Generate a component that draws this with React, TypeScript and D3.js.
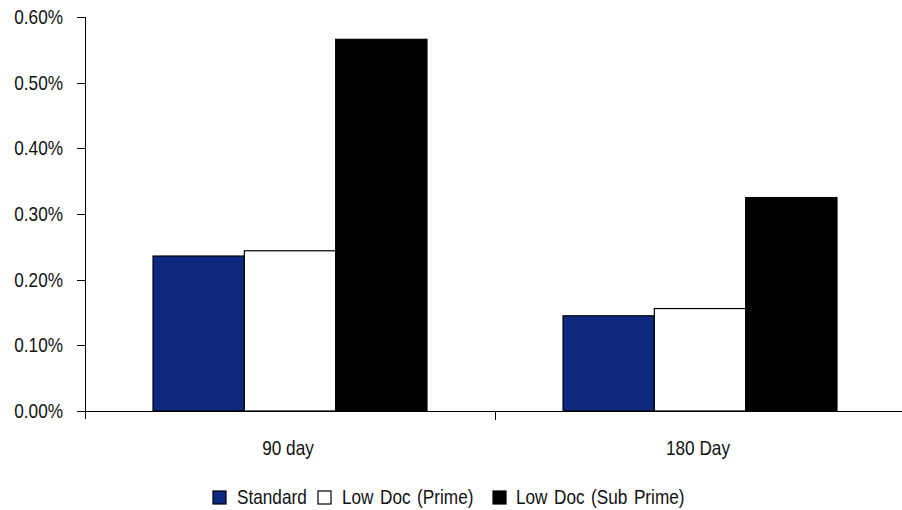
import React from "react";
import * as d3 from "d3";

const categories = ["90 day", "180 Day"];
const seriesNames = ["Standard", "Low Doc (Prime)", "Low Doc (Sub Prime)"];
const seriesColors = ["#0d2a80", "#ffffff", "#000000"];
const standard = [0.00236, 0.00145];
const lowDocPrime = [0.00244, 0.00156];
const lowDocSubPrime = [0.00566, 0.00325];
const yTicks = [0, 0.001, 0.002, 0.003, 0.004, 0.005, 0.006];

const W = 902;
const H = 510;
const FONT = "'Liberation Sans', Arial, sans-serif";
const SQUEEZE = 0.86;

type LabelProps = {
  x: number;
  y: number;
  anchor?: "start" | "middle" | "end";
  dy?: string;
  wordSpacing?: number;
  children: React.ReactNode;
};

// Narrow-looking label: regular sans squeezed horizontally around its anchor point.
function Label({ x, y, anchor = "start", dy, wordSpacing = 0, children }: LabelProps) {
  return (
    <text
      transform={`translate(${x},${y}) scale(${SQUEEZE},1)`}
      textAnchor={anchor}
      dy={dy}
      fontSize={20}
      fill="#111"
      style={{ whiteSpace: "pre", wordSpacing: `${wordSpacing}px` }}
    >
      {children}
    </text>
  );
}

export default function App() {
  const series = [standard, lowDocPrime, lowDocSubPrime];
  const x = d3.scaleBand<string>().domain(categories).range([85, 905]).paddingInner(0).paddingOuter(0);
  const xs = d3
    .scaleBand<number>()
    .domain([0, 1, 2])
    .range([0, x.bandwidth()])
    .paddingInner(0)
    .paddingOuter(0.745);
  const y = d3.scaleLinear().domain([0, 0.006]).range([411, 17]);
  const fmt = d3.format(".2%");
  const y0 = y(0);

  const legendItems = [
    { swatch: 213, text: 237 },
    { swatch: 318, text: 342 },
    { swatch: 493, text: 516 },
  ];

  return (
    <svg
      width={W}
      height={H}
      style={{ position: "absolute", left: 0, top: 0, background: "#fff" }}
      fontFamily={FONT}
    >
      {/* bars */}
      {categories.map((c, ci) =>
        series.map((s, si) => (
          <rect
            key={`${c}-${si}`}
            x={(x(c) as number) + (xs(si) as number)}
            y={y(s[ci])}
            width={xs.bandwidth()}
            height={y0 - y(s[ci])}
            fill={seriesColors[si]}
            stroke="#000"
            strokeWidth={1.2}
          />
        ))
      )}

      {/* y axis */}
      <line x1={85.5} x2={85.5} y1={17} y2={419} stroke="#000" strokeWidth={1} />
      {yTicks.map((t) => (
        <g key={t}>
          <line x1={77} x2={85.5} y1={Math.round(y(t)) + 0.5} y2={Math.round(y(t)) + 0.5} stroke="#000" />
          <Label x={63} y={y(t)} dy="0.35em" anchor="end">
            {fmt(t)}
          </Label>
        </g>
      ))}

      {/* x axis */}
      <line x1={85} x2={W} y1={411.5} y2={411.5} stroke="#000" strokeWidth={1} />
      {categories.map((c) => (
        <g key={c}>
          <line
            x1={(x(c) as number) + x.bandwidth() + 0.5}
            x2={(x(c) as number) + x.bandwidth() + 0.5}
            y1={411}
            y2={420}
            stroke="#000"
          />
          <Label x={(x(c) as number) + x.bandwidth() / 2 - 2} y={455} anchor="middle">
            {c}
          </Label>
        </g>
      ))}

      {/* legend */}
      {seriesNames.map((n, i) => (
        <g key={n}>
          <rect
            x={legendItems[i].swatch}
            y={491}
            width={13}
            height={13}
            fill={seriesColors[i]}
            stroke="#000"
            strokeWidth={1.2}
          />
          <Label x={legendItems[i].text} y={504} wordSpacing={2}>
            {n}
          </Label>
        </g>
      ))}
    </svg>
  );
}
